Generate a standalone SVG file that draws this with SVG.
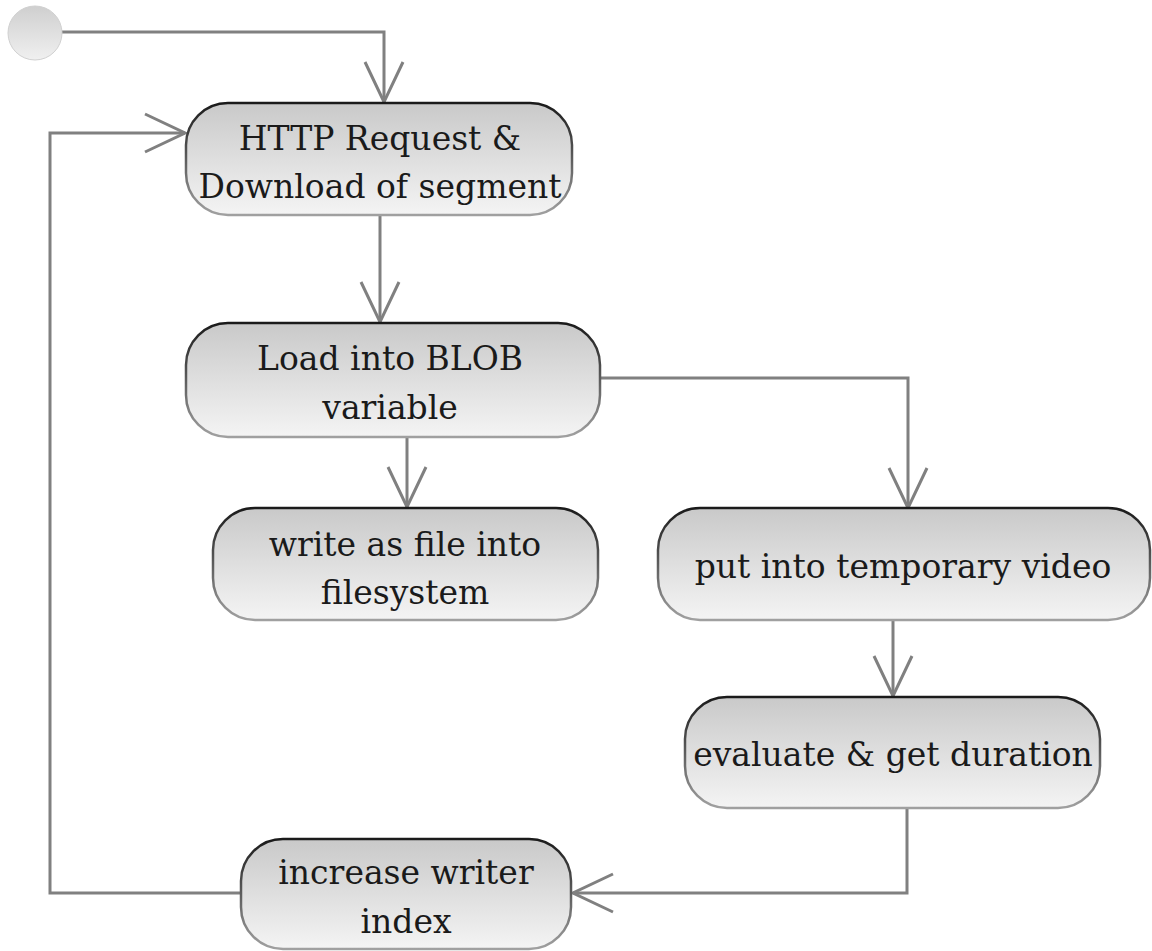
<svg xmlns="http://www.w3.org/2000/svg" width="1152" height="951" viewBox="0 0 1152 951">
<defs>
<linearGradient id="fill" x1="0" y1="0" x2="0" y2="1">
<stop offset="0" stop-color="#c9c9c9"/>
<stop offset="1" stop-color="#f4f4f4"/>
</linearGradient>
<linearGradient id="edge" x1="0" y1="0" x2="0" y2="1">
<stop offset="0" stop-color="#1a1a1a"/>
<stop offset="1" stop-color="#a0a0a0"/>
</linearGradient>
<linearGradient id="dot" x1="0" y1="0" x2="0" y2="1">
<stop offset="0" stop-color="#cfcfcf"/>
<stop offset="1" stop-color="#f0f0f0"/>
</linearGradient>
<marker id="open" viewBox="0 0 44 44" refX="42" refY="22" markerWidth="44" markerHeight="44" markerUnits="userSpaceOnUse" orient="auto">
<path d="M2,3 L42,22 L2,41" fill="none" stroke="#808080" stroke-width="3"/>
</marker>
<style>
.box{fill:url(#fill);stroke:url(#edge);stroke-width:2.5}
.t{font-family:"DejaVu Serif","Liberation Serif",serif;font-size:33px;fill:#1a1a1a;text-anchor:middle}
.c{fill:none;stroke:#808080;stroke-width:3}
</style>
</defs>
<g id="connectors">
<path class="c" d="M62,32 H384 V102" marker-end="url(#open)"/>
<path class="c" d="M240,893 H50 V133 H185" marker-end="url(#open)"/>
<path class="c" d="M380,215 V322" marker-end="url(#open)"/>
<path class="c" d="M600,378 H908 V508" marker-end="url(#open)"/>
<path class="c" d="M407,437 V507" marker-end="url(#open)"/>
<path class="c" d="M893,620 V696" marker-end="url(#open)"/>
<path class="c" d="M907,808 V893 H573" marker-end="url(#open)"/>
</g>
<g id="start">
<circle cx="35" cy="33" r="27" fill="url(#dot)" stroke="#d0d0d0" stroke-width="1"/>
</g>
<g id="http">
<rect class="box" x="186" y="103" width="386" height="112" rx="42"/>
<text class="t" x="380" y="150">HTTP Request &amp;</text>
<text class="t" x="380" y="198">Download of segment</text>
</g>
<g id="load">
<rect class="box" x="186" y="323" width="414" height="114" rx="42"/>
<text class="t" x="390" y="370">Load into BLOB</text>
<text class="t" x="390" y="419">variable</text>
</g>
<g id="write">
<rect class="box" x="213" y="508" width="385" height="112" rx="42"/>
<text class="t" x="405" y="556">write as file into</text>
<text class="t" x="405" y="604">filesystem</text>
</g>
<g id="put">
<rect class="box" x="658" y="508" width="492" height="112" rx="42"/>
<text class="t" x="903" y="578">put into temporary video</text>
</g>
<g id="evaluate">
<rect class="box" x="685" y="697" width="415" height="111" rx="42"/>
<text class="t" x="893" y="766">evaluate &amp; get duration</text>
</g>
<g id="increase">
<rect class="box" x="241" y="839" width="330" height="110" rx="42"/>
<text class="t" x="406" y="884">increase writer</text>
<text class="t" x="406" y="933">index</text>
</g>
</svg>
